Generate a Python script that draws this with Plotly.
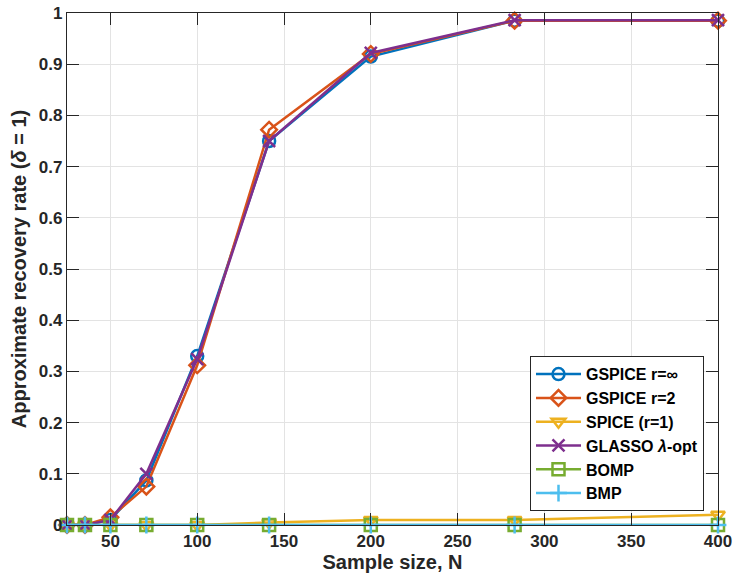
import plotly.graph_objects as go

N = [25, 35.36, 50, 70.71, 100, 141.42, 200, 282.84, 400]
gspice_inf = [0, 0, 0.01, 0.087, 0.33, 0.75, 0.915, 0.985, 0.985]
gspice_r2 = [0, 0, 0.015, 0.075, 0.312, 0.772, 0.92, 0.985, 0.985]
spice_r1 = [0, 0, 0, 0, 0, 0.005, 0.01, 0.01, 0.02]
glasso = [0, 0, 0.01, 0.1, 0.324, 0.75, 0.922, 0.986, 0.986]
bomp = [0, 0, 0, 0, 0, 0, 0, 0, 0]
bmp = [0, 0, 0, 0, 0, 0, 0, 0, 0]

x_ticks = [50, 100, 150, 200, 250, 300, 350, 400]

series = [
    ("GSPICE r=∞", gspice_inf, "#0072BD", "circle-open"),
    ("GSPICE r=2", gspice_r2, "#D95319", "diamond-open"),
    ("SPICE (r=1)", spice_r1, "#EDB120", "triangle-down-open"),
    ("GLASSO <i>λ</i>-opt", glasso, "#7E2F8E", "x-thin-open"),
    ("BOMP", bomp, "#77AC30", "square-open"),
    ("BMP", bmp, "#4DBEEE", "cross-thin-open"),
]

fig = go.Figure()
for name, ys, col, sym in series:
    fig.add_trace(go.Scatter(
        x=N, y=ys, name=name, mode="lines+markers",
        line=dict(color=col, width=2.5),
        marker=dict(symbol=sym, size=12, color=col, line=dict(width=2.5, color=col)),
        cliponaxis=False,
    ))

axis_common = dict(
    showline=True, linecolor="#262626", linewidth=1.3, mirror="allticks",
    ticks="inside", ticklen=12, tickwidth=1.3, tickcolor="#262626",
    showgrid=True, gridcolor="#E3E3E3", gridwidth=1, zeroline=False,
    automargin=False,
    tickfont=dict(family="Liberation Sans", size=17, color="#262626", weight="bold"),
)

fig.update_xaxes(range=[25, 400], tickvals=x_ticks,
                 title=dict(text="Sample size, N", standoff=4,
                            font=dict(family="Liberation Sans", size=20, color="#262626", weight="bold")),
                 **axis_common)
fig.update_yaxes(range=[0, 1], dtick=0.1,
                 title=dict(text="Approximate recovery rate (<i>δ</i> = 1)", standoff=6,
                            font=dict(family="Liberation Sans", size=20, color="#262626", weight="bold")),
                 **axis_common)

fig.update_layout(
    width=733, height=583,
    margin=dict(l=67, r=15, t=13, b=58, autoexpand=False),
    plot_bgcolor="white", paper_bgcolor="white",
    legend=dict(x=0.9785, y=0.027, xanchor="right", yanchor="bottom",
                bgcolor="white", bordercolor="#262626", borderwidth=1,
                font=dict(family="Liberation Sans", size=16, color="black", weight="bold"),
                tracegroupgap=0, itemwidth=45),
    showlegend=True,
)

fig.write_html("out.html", config={"displayModeBar": False},
               post_script="document.body.style.margin='0';document.body.style.overflow='hidden';")
